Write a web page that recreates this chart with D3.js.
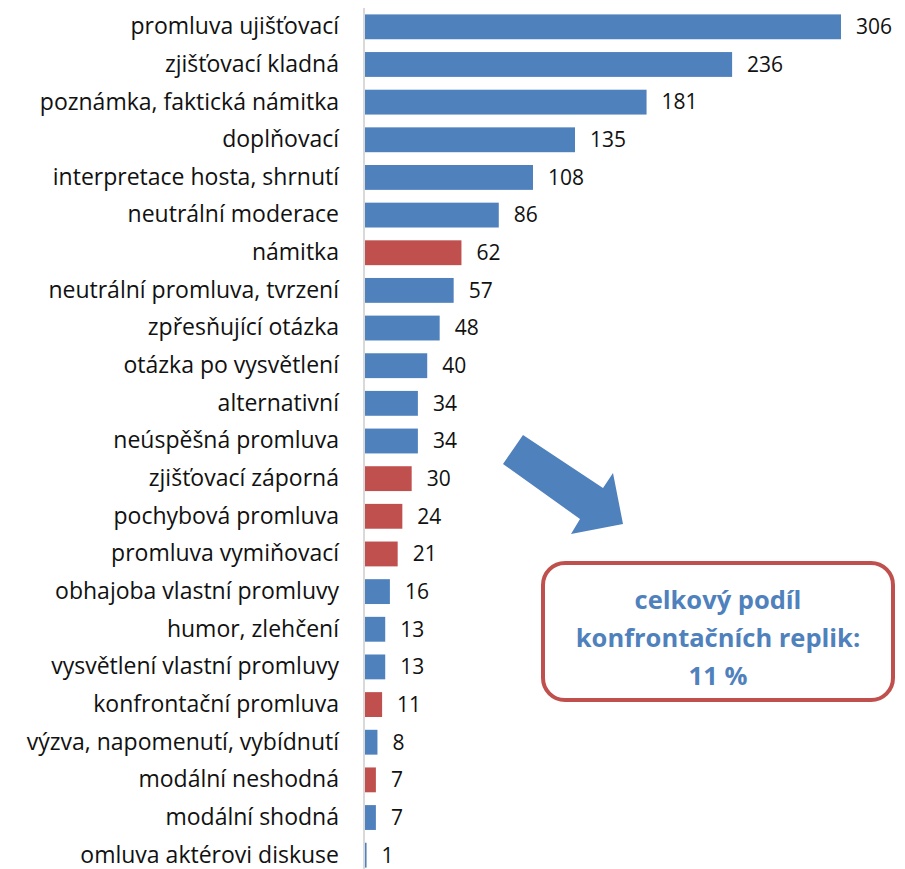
<!DOCTYPE html>
<html>
<head>
<meta charset="utf-8">
<script src="https://cdn.jsdelivr.net/npm/d3@7"></script>
<style>
  body { margin: 0; background: #fff; }
  svg { display: block; font-family: 'Open Sans', sans-serif; }
</style>
</head>
<body>
<svg id="chart" width="905" height="869"></svg>
<script>
const categories = [
  'promluva ujišťovací', 'zjišťovací kladná', 'poznámka, faktická námitka', 'doplňovací',
  'interpretace hosta, shrnutí', 'neutrální moderace', 'námitka', 'neutrální promluva, tvrzení',
  'zpřesňující otázka', 'otázka po vysvětlení', 'alternativní', 'neúspěšná promluva',
  'zjišťovací záporná', 'pochybová promluva', 'promluva vymiňovací', 'obhajoba vlastní promluvy',
  'humor, zlehčení', 'vysvětlení vlastní promluvy', 'konfrontační promluva',
  'výzva, napomenutí, vybídnutí', 'modální neshodná', 'modální shodná', 'omluva aktérovi diskuse'
]
const values = [306, 236, 181, 135, 108, 86, 62, 57, 48, 40, 34, 34, 30, 24, 21, 16, 13, 13, 11, 8, 7, 7, 1]
const confrontational = ['námitka', 'zjišťovací záporná', 'pochybová promluva',
  'promluva vymiňovací', 'konfrontační promluva', 'modální neshodná']
const noteLines = ['celkový podíl', 'konfrontačních replik:', '11 %']

const blue = '#4f81bd'
const red = '#c0504d'

const svg = d3.select('#chart')
const x0 = 365

let x = d3.scaleLinear()
  .domain([0, 306])
  .range([x0, 841])

let y = d3.scaleBand()
  .domain(categories)
  .range([8, 874])
  .paddingInner(0.34)
  .paddingOuter(0.17)

let data = categories.map((c, i) => ({cat: c, val: values[i]}))

svg.selectAll('.bar')
  .data(data)
  .enter().append('rect')
  .attr('class', 'bar')
  .attr('x', x(0))
  .attr('y', d => y(d.cat))
  .attr('width', d => x(d.val) - x(0))
  .attr('height', y.bandwidth())
  .style('fill', d => confrontational.includes(d.cat) ? red : blue)

// category axis
let axis = d3.axisLeft(y).tickSize(0).tickPadding(25)
let g = svg.append('g')
  .attr('transform', `translate(${x0 - 1},0)`)
  .call(axis)
g.select('.domain')
  .attr('d', `M0,8V869`)
  .style('stroke', '#d9d9d9')
  .style('stroke-width', 2)
g.selectAll('text')
  .style('font-family', "'Open Sans', sans-serif")
  .style('font-size', '23px')
  .style('fill', '#111')

svg.selectAll('.val')
  .data(data)
  .enter().append('text')
  .attr('class', 'val')
  .attr('x', d => x(d.val) + 15)
  .attr('y', d => y(d.cat) + y.bandwidth() / 2)
  .attr('dy', '0.35em')
  .style('font-size', '21px')
  .style('fill', '#111')
  .text(d => d.val)

// annotation arrow
let arrow = [[523, 435], [603, 488], [613, 473], [623, 524], [571, 534], [580, 519], [503, 464]]
svg.append('path')
  .attr('d', d3.line()(arrow) + 'Z')
  .style('fill', blue)

// annotation box
svg.append('rect')
  .attr('x', 543).attr('y', 563)
  .attr('width', 350).attr('height', 137)
  .attr('rx', 22)
  .style('fill', '#fff')
  .style('stroke', red)
  .style('stroke-width', 4)

svg.selectAll('.note')
  .data(noteLines)
  .enter().append('text')
  .attr('class', 'note')
  .attr('x', 718)
  .attr('y', (d, i) => 604 + i * 38)
  .attr('dy', '0.2em')
  .attr('text-anchor', 'middle')
  .style('font-size', '25.5px')
  .style('font-weight', 'bold')
  .style('fill', blue)
  .text(d => d)
</script>
</body>
</html>
